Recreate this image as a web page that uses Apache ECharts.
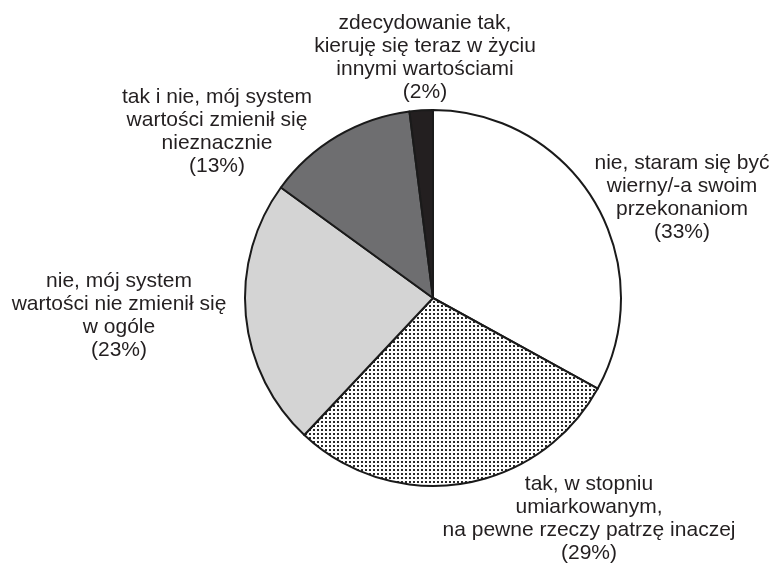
<!DOCTYPE html>
<html>
<head>
<meta charset="utf-8">
<script src="https://cdn.jsdelivr.net/npm/echarts@6/dist/echarts.min.js"></script>
<style>
  html, body { margin: 0; padding: 0; background: #fff; }
  #chart { width: 773px; height: 567px; }
</style>
</head>
<body>
<div id="chart"></div>
<script>
// dane
const categories = [
  "nie, staram się być\nwierny/-a swoim\nprzekonaniom",
  "tak, w stopniu\numiarkowanym,\nna pewne rzeczy patrzę inaczej",
  "nie, mój system\nwartości nie zmienił się\nw ogóle",
  "tak i nie, mój system\nwartości zmienił się\nnieznacznie",
  "zdecydowanie tak,\nkieruję się teraz w życiu\ninnymi wartościami"
];
const values = [33, 29, 23, 13, 2];

// położenie etykiet (środek bloku tekstu)
const labelPos = [
  [682, 198],
  [589, 519],
  [119, 316],
  [217, 132],
  [425, 58]
];

// wzór kropkowany
function dotPattern() {
  const c = document.createElement("canvas");
  c.width = 4;
  c.height = 4;
  const ctx = c.getContext("2d");
  ctx.fillStyle = "#fff";
  ctx.fillRect(0, 0, 4, 4);
  ctx.fillStyle = "#2a2a2a";
  ctx.fillRect(1, 1, 2, 2);
  return c;
}

const fills = [
  "#ffffff",
  { image: dotPattern(), repeat: "repeat" },
  "#d4d4d4",
  "#6e6e70",
  "#231f20"
];

const chart = echarts.init(document.getElementById("chart"));
chart.setOption({
  animation: false,
  backgroundColor: "#fff",
  series: [
    {
      type: "pie",
      center: [433, 298],
      radius: 188,
      startAngle: 90,
      clockwise: true,
      data: categories.map((name, i) => ({
        name: name,
        value: values[i],
        itemStyle: { color: fills[i] }
      })),
      itemStyle: { borderColor: "#1a1a1a", borderWidth: 2 },
      label: {
        show: true,
        position: "outside",
        formatter: (p) => p.name + "\n(" + p.value + "%)",
        fontFamily: "Liberation Sans, Arial, sans-serif",
        fontSize: 21,
        lineHeight: 23,
        color: "#231f20",
        align: "center",
        overflow: "none",
        width: 400
      },
      labelLine: { show: false },
      labelLayout: (params) => ({
        x: labelPos[params.dataIndex][0],
        y: labelPos[params.dataIndex][1],
        align: "center",
        verticalAlign: "middle",
        hideOverlap: false,
        moveOverlap: null
      }),
      emphasis: { disabled: true }
    }
  ]
});
</script>
</body>
</html>
